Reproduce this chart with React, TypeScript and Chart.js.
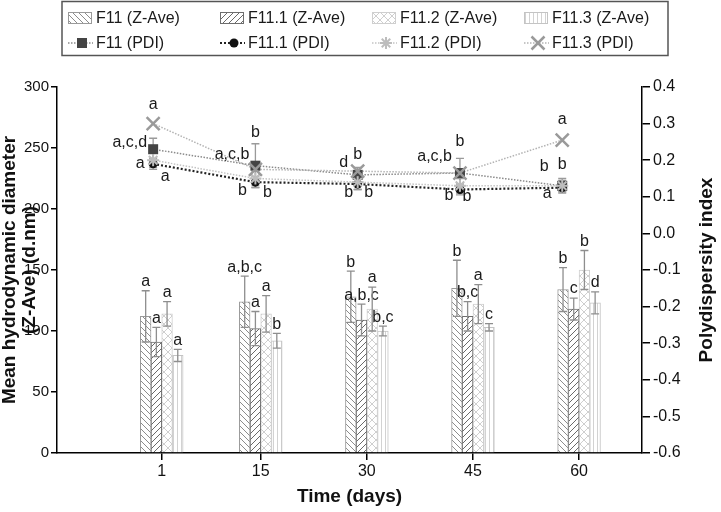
import React, { useEffect, useRef } from 'react';
import { Chart, registerables } from 'chart.js';

Chart.register(...registerables);

// ---- data ----
const days = [1, 15, 30, 45, 60];
const leftTicks = [0, 50, 100, 150, 200, 250, 300];

const zF11 = [112, 124, 128, 135, 134];
const zF11Err = [21, 21, 21, 23, 18];
const zF111 = [91, 102, 109, 112, 118];
const zF111Err = [12, 14, 13, 12, 9];
const zF112 = [114, 114, 118, 122, 150];
const zF112Err = [10, 15, 18, 16, 16];
const zF113 = [80, 92, 100, 103, 123];
const zF113Err = [5, 6, 4, 3, 9];

const zF11Letters = ['a', 'a,b,c', 'b', 'b', 'b'];
const zF111Letters = ['a', 'a', 'a,b,c', 'b,c', 'c'];
const zF112Letters = ['a', 'a', 'a', 'a', 'b'];
const zF113Letters = ['a', 'b', 'b,c', 'c', 'd'];

const pF11 = [0.23, 0.185, 0.16, 0.165, 0.13];
const pF11Err = [0.03, 0.06, 0.02, 0.04, 0.015];
const pF111 = [0.19, 0.14, 0.135, 0.12, 0.125];
const pF111Err = [0.015, 0.015, 0.015, 0.015, 0.012];
const pF112 = [0.2, 0.15, 0.14, 0.13, 0.13];
const pF112Err = [0.02, 0.02, 0.02, 0.02, 0.02];
const pF113 = [0.3, 0.175, 0.17, 0.165, 0.255];

// PDI significance letters: [series, dayIndex, text, dx, dy, align]
const pdiLetters: [number, number, string, number, number, string][] = [
  [3, 0, 'a', 0, -19, 'center'],
  [0, 0, 'a,c,d', -6, -7, 'right'],
  [1, 0, 'a', -13, 0, 'center'],
  [1, 0, 'a', 12, 13, 'center'],
  [0, 1, 'b', 0, -33, 'center'],
  [0, 1, 'a,c,b', -6, -11, 'right'],
  [1, 1, 'b', -13, 8, 'center'],
  [1, 1, 'b', 12, 10, 'center'],
  [0, 2, 'd', -14, -12, 'center'],
  [0, 2, 'b', 0, -20, 'center'],
  [1, 2, 'b', -9, 9, 'center'],
  [1, 2, 'b', 11, 9, 'center'],
  [0, 3, 'b', 0, -31, 'center'],
  [0, 3, 'a,c,b', -8, -16, 'right'],
  [1, 3, 'b', -11, 6, 'center'],
  [1, 3, 'b', 7, 7, 'center'],
  [3, 4, 'a', 0, -20, 'center'],
  [0, 4, 'b', -18, -19, 'center'],
  [0, 4, 'b', 0, -21, 'center'],
  [1, 4, 'a', -15, 6, 'center'],
];

const zLabels = ['F11 (Z-Ave)', 'F11.1 (Z-Ave)', 'F11.2 (Z-Ave)', 'F11.3 (Z-Ave)'];
const pLabels = ['F11 (PDI)', 'F11.1 (PDI)', 'F11.2 (PDI)', 'F11.3 (PDI)'];

const FONT = '"Liberation Sans", Arial, sans-serif';

// axis ranges (days) and bar-scale compensation for Chart.js grouping slots
const X_MIN = -13.8;
const X_MAX = 68.9;
const BAR_AXIS_SHIFT = 3.03;

function makePattern(kind: string): CanvasPattern | string {
  const c = document.createElement('canvas');
  const s = kind === 'cross' ? 8 : kind === 'vert' ? 4 : 6;
  c.width = s; c.height = s;
  const g = c.getContext('2d')!;
  g.fillStyle = '#fff';
  g.fillRect(0, 0, s, s);
  g.lineWidth = 1;
  if (kind === 'back') {
    g.strokeStyle = '#8c8c8c';
    for (let k = -1; k <= 1; k++) { g.beginPath(); g.moveTo(k * s, 0); g.lineTo(k * s + s, s); g.stroke(); }
  } else if (kind === 'fwd') {
    g.strokeStyle = '#6a6a6a';
    for (let k = -1; k <= 1; k++) { g.beginPath(); g.moveTo(k * s, s); g.lineTo(k * s + s, 0); g.stroke(); }
  } else if (kind === 'cross') {
    g.strokeStyle = '#cfcfcf';
    for (let k = -1; k <= 1; k++) {
      g.beginPath(); g.moveTo(k * s, 0); g.lineTo(k * s + s, s); g.stroke();
      g.beginPath(); g.moveTo(k * s, s); g.lineTo(k * s + s, 0); g.stroke();
    }
  } else {
    g.strokeStyle = '#d2d2d2';
    g.beginPath(); g.moveTo(1.5, 0); g.lineTo(1.5, s); g.stroke();
  }
  const ctx = document.createElement('canvas').getContext('2d')!;
  return ctx.createPattern(c, 'repeat') || '#fff';
}

function drawMarker(g: CanvasRenderingContext2D, style: string, x: number, y: number) {
  g.save();
  g.setLineDash([]);
  if (style === 'rect') {
    g.fillStyle = '#444';
    g.fillRect(x - 5, y - 5, 10, 10);
  } else if (style === 'circle') {
    g.fillStyle = '#111';
    g.beginPath(); g.arc(x, y, 4.5, 0, Math.PI * 2); g.fill();
  } else if (style === 'star') {
    g.strokeStyle = '#bdbdbd'; g.lineWidth = 2;
    const r = 6;
    for (let a = 0; a < 4; a++) {
      const t = (a * Math.PI) / 4;
      g.beginPath(); g.moveTo(x - r * Math.cos(t), y - r * Math.sin(t)); g.lineTo(x + r * Math.cos(t), y + r * Math.sin(t)); g.stroke();
    }
  } else {
    g.strokeStyle = '#9a9a9a'; g.lineWidth = 2.5;
    const r = 6.5;
    g.beginPath(); g.moveTo(x - r, y - r); g.lineTo(x + r, y + r); g.moveTo(x - r, y + r); g.lineTo(x + r, y - r); g.stroke();
  }
  g.restore();
}

export default function App() {
  const ref = useRef<HTMLCanvasElement>(null);

  useEffect(() => {
    const canvas = ref.current!;
    const patterns = [makePattern('back'), makePattern('fwd'), makePattern('cross'), makePattern('vert')];
    const barBorders = ['#9a9a9a', '#6e6e6e', '#cfcfcf', '#c4c4c4'];
    const zVals = [zF11, zF111, zF112, zF113];
    const zErrs = [zF11Err, zF111Err, zF112Err, zF113Err];
    const zLets = [zF11Letters, zF111Letters, zF112Letters, zF113Letters];
    const pVals = [pF11, pF111, pF112, pF113];
    const pErrs = [pF11Err, pF111Err, pF112Err, null];
    const lineColors = ['#8a8a8a', '#222', '#c4c4c4', '#b4b4b4'];
    const lineWidths = [1.5, 2.2, 1.5, 1.5];
    const markerStyles = ['rect', 'circle', 'star', 'crossRot'];

    const barDatasets = zVals.map((vals, i) => ({
      type: 'bar' as const,
      label: zLabels[i],
      data: vals.map((v, k) => ({ x: days[k], y: v })),
      xAxisID: 'xb',
      yAxisID: 'y',
      backgroundColor: patterns[i],
      borderColor: barBorders[i],
      borderWidth: 1,
      barThickness: 10.7,
      order: 10,
      vals,
      errs: zErrs[i],
      letters: zLets[i],
    }));

    const lineDatasets = pVals.map((vals, i) => ({
      type: 'line' as const,
      label: pLabels[i],
      data: vals.map((v, k) => ({ x: k, y: v })),
      xAxisID: 'x2',
      yAxisID: 'y2',
      borderColor: lineColors[i],
      borderWidth: lineWidths[i],
      borderDash: i === 1 ? [2, 2] : [1.5, 1.5],
      fill: false,
      tension: 0,
      pointRadius: 0,
      order: [4, 3, 1, 2][i],
      vals,
      errs: pErrs[i],
      marker: markerStyles[i],
    }));

    const errPlugin = {
      id: 'errs',
      beforeDatasetsDraw(chart: any) {
        const g = chart.ctx;
        chart.data.datasets.forEach((ds: any, di: number) => {
          if (ds.type !== 'line' || !ds.errs) return;
          const meta = chart.getDatasetMeta(di);
          const ys = chart.scales[ds.yAxisID];
          g.save();
          g.strokeStyle = '#9a9a9a';
          g.lineWidth = 1.3;
          meta.data.forEach((el: any, k: number) => {
            const e = ds.errs[k];
            const yt = ys.getPixelForValue(ds.vals[k] + e);
            const yb = ys.getPixelForValue(ds.vals[k] - e);
            g.beginPath();
            g.moveTo(el.x, yt); g.lineTo(el.x, yb);
            g.moveTo(el.x - 4, yt); g.lineTo(el.x + 4, yt);
            g.moveTo(el.x - 4, yb); g.lineTo(el.x + 4, yb);
            g.stroke();
          });
          g.restore();
        });
      },
      afterDatasetsDraw(chart: any) {
        const g = chart.ctx;
        chart.data.datasets.forEach((ds: any, di: number) => {
          if (ds.type !== 'bar') return;
          const meta = chart.getDatasetMeta(di);
          const ys = chart.scales[ds.yAxisID];
          meta.data.forEach((el: any, k: number) => {
            const e = ds.errs[k];
            const yt = ys.getPixelForValue(ds.vals[k] + e);
            const yb = ys.getPixelForValue(ds.vals[k] - e);
            g.save();
            g.strokeStyle = '#8e8e8e';
            g.lineWidth = 1.3;
            g.beginPath();
            g.moveTo(el.x, yt); g.lineTo(el.x, yb);
            g.moveTo(el.x - 4, yt); g.lineTo(el.x + 4, yt);
            g.moveTo(el.x - 4, yb); g.lineTo(el.x + 4, yb);
            g.stroke();
            g.fillStyle = '#1a1a1a';
            g.font = '16px ' + FONT;
            g.textAlign = 'center';
            g.textBaseline = 'bottom';
            g.fillText(ds.letters[k], el.x, yt - 1);
            g.restore();
          });
        });
        [0, 1, 2, 3].forEach((si) => {
          const di = 4 + si;
          const ds: any = chart.data.datasets[di];
          const meta = chart.getDatasetMeta(di);
          meta.data.forEach((el: any) => drawMarker(g, ds.marker, el.x, el.y));
        });
        g.save();
        g.fillStyle = '#1a1a1a';
        g.font = '16px ' + FONT;
        g.textBaseline = 'middle';
        pdiLetters.forEach(([si, k, t, dx, dy, al]) => {
          const el: any = chart.getDatasetMeta(4 + si).data[k];
          g.textAlign = al as CanvasTextAlign;
          g.fillText(t, el.x + dx, el.y + dy);
        });
        g.restore();
      },
    };

    const decorPlugin = {
      id: 'decor',
      afterDraw(chart: any) {
        const g = chart.ctx;
        const ca = chart.chartArea;
        const midY = (ca.top + ca.bottom) / 2;
        g.save();
        g.fillStyle = '#111';
        g.font = 'bold 19px ' + FONT;
        g.textAlign = 'center';
        g.textBaseline = 'middle';
        g.save();
        g.translate(10, midY);
        g.rotate(-Math.PI / 2);
        g.fillText('Mean hydrodynamic diameter', 0, 0);
        g.fillText('(Z-Ave) (d.nm)', 0, 20);
        g.restore();
        g.save();
        g.translate(707, midY);
        g.rotate(-Math.PI / 2);
        g.fillText('Polydispersity index', 0, 0);
        g.restore();
        g.fillText('Time (days)', (ca.left + ca.right) / 2, 497);
        g.restore();

        // legend
        g.save();
        const bx = 62, by = 1.5, bw = 606, bh = 54;
        g.strokeStyle = '#555';
        g.lineWidth = 1.5;
        g.strokeRect(bx, by, bw, bh);
        const cols = [68, 220, 372, 524];
        const rows = [18, 43];
        g.font = '16px ' + FONT;
        g.textBaseline = 'middle';
        g.textAlign = 'left';
        for (let i = 0; i < 4; i++) {
          const x = cols[i];
          const y = rows[0];
          g.fillStyle = patterns[i] as any;
          g.fillRect(x, y - 6, 24, 12);
          g.strokeStyle = barBorders[i];
          g.lineWidth = 1;
          g.strokeRect(x + 0.5, y - 5.5, 23, 11);
          g.fillStyle = '#1a1a1a';
          g.fillText(zLabels[i], x + 28, y + 1);
          const y2 = rows[1];
          g.save();
          g.strokeStyle = lineColors[i];
          g.lineWidth = lineWidths[i];
          g.setLineDash(i === 1 ? [2, 2] : [1.5, 1.5]);
          g.beginPath(); g.moveTo(x, y2); g.lineTo(x + 25, y2); g.stroke();
          g.restore();
          drawMarker(g, markerStyles[i], x + 14, y2);
          g.fillStyle = '#1a1a1a';
          g.fillText(pLabels[i], x + 28, y2 + 1);
        }
        g.restore();
      },
    };

    const tickFont = { family: FONT, size: 15 };
    const chart = new Chart(canvas, {
      type: 'bar',
      data: { datasets: [...barDatasets, ...lineDatasets] as any },
      options: {
        responsive: false,
        animation: false,
        devicePixelRatio: 1,
        layout: { padding: { top: 87, left: 0, right: 0, bottom: 0 } },
        plugins: { legend: { display: false }, tooltip: { enabled: false } },
        scales: {
          x: {
            type: 'linear',
            position: 'bottom',
            min: X_MIN,
            max: X_MAX,
            offset: false,
            afterBuildTicks: (s: any) => { s.ticks = days.map((v) => ({ value: v })); },
            afterFit: (s: any) => { s.height = 59; },
            ticks: { color: '#111', font: { family: FONT, size: 16 }, padding: 2, autoSkip: false, maxRotation: 0, callback: (v: any) => String(v) },
            grid: { display: true, drawOnChartArea: false, drawTicks: true, tickLength: 7, color: '#000', lineWidth: 1.5, offset: false },
            border: { display: true, color: '#000', width: 1.5 },
          },
          xb: {
            type: 'linear',
            display: false,
            min: X_MIN - BAR_AXIS_SHIFT,
            max: X_MAX - BAR_AXIS_SHIFT,
            offset: false,
          },
          x2: {
            type: 'linear',
            display: false,
            min: -0.94,
            max: 4.78,
            offset: false,
          },
          y: {
            type: 'linear',
            position: 'left',
            min: 0,
            max: 300,
            afterBuildTicks: (s: any) => { s.ticks = leftTicks.map((v) => ({ value: v })); },
            afterFit: (s: any) => { s.width = 57; },
            ticks: { color: '#111', font: tickFont, padding: 2 },
            grid: { display: true, drawOnChartArea: false, drawTicks: true, tickLength: 6, color: '#000', lineWidth: 1.5 },
            border: { display: true, color: '#000', width: 1.5 },
          },
          y2: {
            type: 'linear',
            position: 'right',
            min: -0.6,
            max: 0.4,
            afterBuildTicks: (s: any) => {
              const t = [];
              for (let i = -6; i <= 4; i++) t.push({ value: i / 10 });
              s.ticks = t;
            },
            afterFit: (s: any) => { s.width = 79; },
            ticks: {
              color: '#111',
              font: { family: FONT, size: 16 },
              padding: 3,
              callback: (v: any) => (Math.round(v * 10) / 10).toFixed(1),
            },
            grid: { display: true, drawOnChartArea: false, drawTicks: true, tickLength: 8, color: '#000', lineWidth: 1.5 },
            border: { display: true, color: '#000', width: 1.5 },
          },
        },
      } as any,
      plugins: [errPlugin, decorPlugin],
    });
    return () => chart.destroy();
  }, []);

  return (
    <div style={{ position: 'absolute', left: 0, top: 0, width: 721, height: 512, background: '#fff' }}>
      <canvas ref={ref} width={721} height={512} style={{ display: 'block' }} />
    </div>
  );
}
